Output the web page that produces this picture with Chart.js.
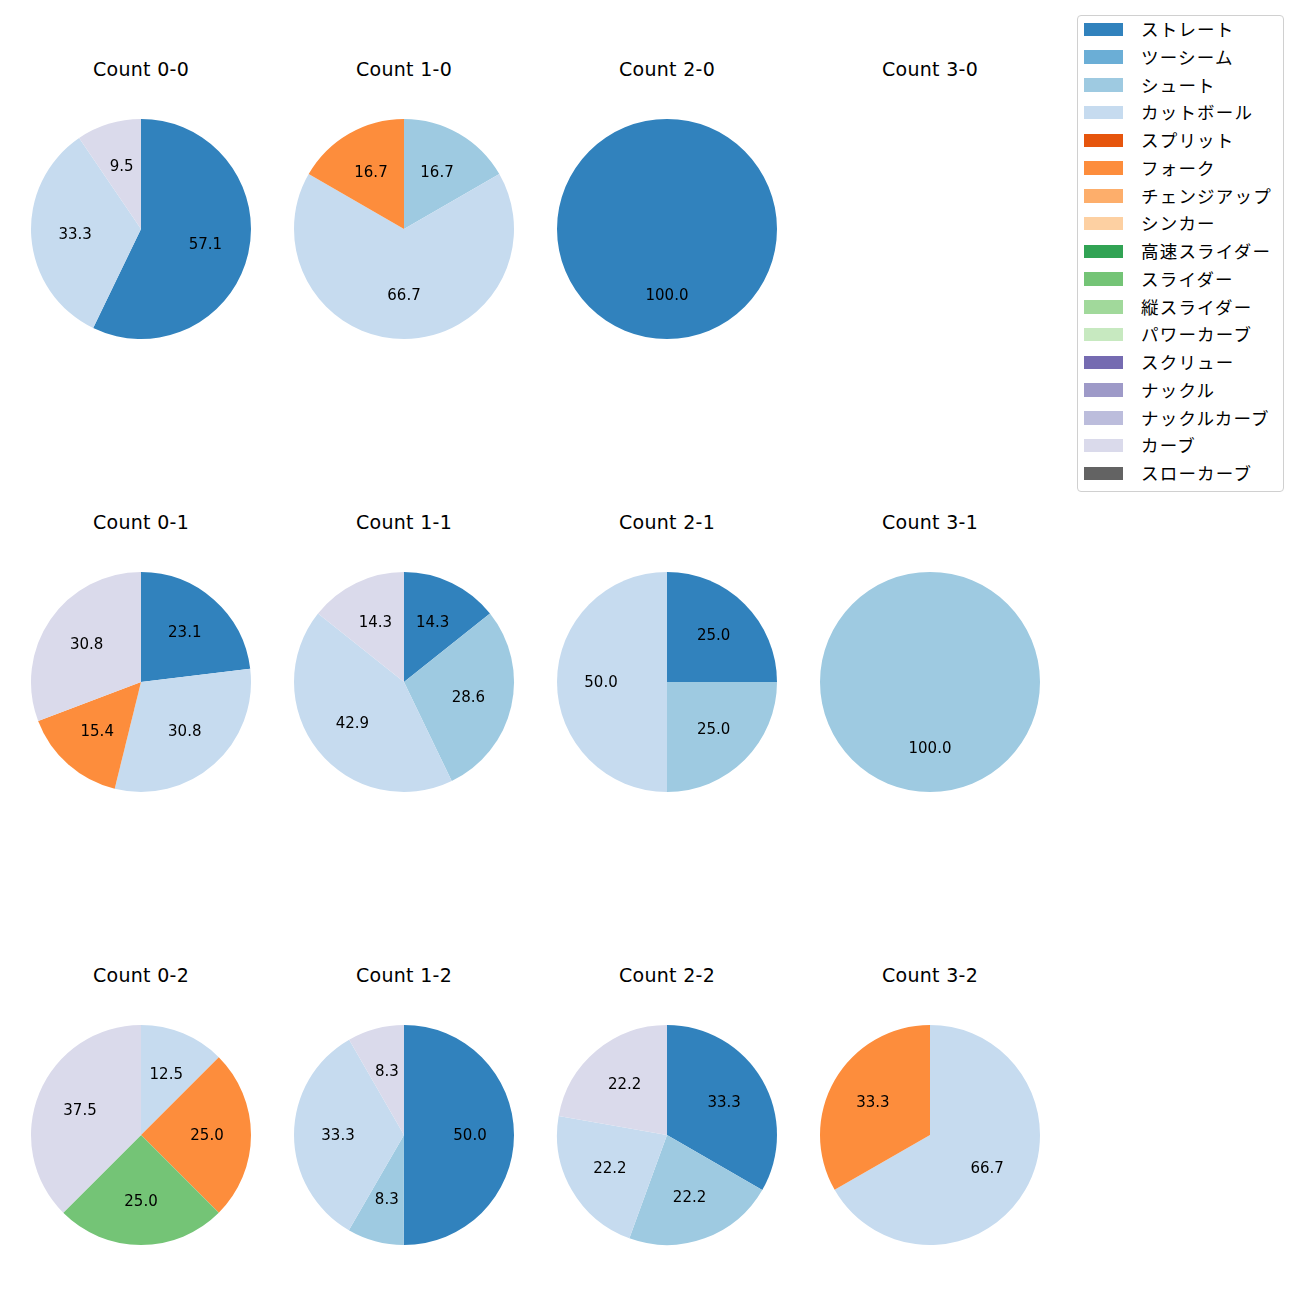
<!DOCTYPE html>
<html>
<head>
<meta charset="utf-8">
<script src="https://cdn.jsdelivr.net/npm/chart.js@4/dist/chart.umd.min.js"></script>
<style>
  html, body { margin: 0; padding: 0; background: #ffffff; }
  body { width: 1300px; height: 1300px; position: relative; overflow: hidden;
         font-family: "DejaVu Sans", "Noto Sans CJK JP", sans-serif; }
  .title { position: absolute; width: 240px; text-align: center; font-size: 19px; letter-spacing: 0.3px;
           line-height: 20px; color: #000; font-family: "DejaVu Sans", sans-serif; }
  canvas.pie { position: absolute; }
  #legend { position: absolute; left: 1077px; top: 15px; width: 207px; height: 477px;
            border: 1px solid #d0d0d0; border-radius: 4px; background: rgba(255,255,255,0.8);
            box-sizing: border-box; }
  .li { position: absolute; left: 0; height: 20px; font-size: 17.5px; line-height: 20px; color: #000; white-space: nowrap;
        font-family: "Noto Sans CJK JP", sans-serif; letter-spacing: 1.2px; }
  .sw { position: absolute; left: 6px; top: 3.5px; width: 39px; height: 13.5px; }
  .lt { position: absolute; left: 63px; top: 0; }
</style>
</head>
<body>
<div id="legend"></div>
<script>
// ---- data ----
const pitchTypes = ["ストレート","ツーシーム","シュート","カットボール","スプリット","フォーク","チェンジアップ","シンカー","高速スライダー","スライダー","縦スライダー","パワーカーブ","スクリュー","ナックル","ナックルカーブ","カーブ","スローカーブ"];
const pitchColors = ["#3182bd","#6baed6","#9ecae1","#c6dbef","#e6550d","#fd8d3c","#fdae6b","#fdd0a2","#31a354","#74c476","#a1d99b","#c7e9c0","#756bb1","#9e9ac8","#bcbddc","#dadaeb","#636363"];
const countLabels = ["Count 0-0","Count 1-0","Count 2-0","Count 3-0",
                     "Count 0-1","Count 1-1","Count 2-1","Count 3-1",
                     "Count 0-2","Count 1-2","Count 2-2","Count 3-2"];
// percentages per pitch type (legend order)
const count00 = [57.1,0,0,33.3,0,0,0,0,0,0,0,0,0,0,0,9.5,0];
const count10 = [0,0,16.7,66.7,0,16.7,0,0,0,0,0,0,0,0,0,0,0];
const count20 = [100,0,0,0,0,0,0,0,0,0,0,0,0,0,0,0,0];
const count30 = [0,0,0,0,0,0,0,0,0,0,0,0,0,0,0,0,0];
const count01 = [23.1,0,0,30.8,0,15.4,0,0,0,0,0,0,0,0,0,30.8,0];
const count11 = [14.3,0,28.6,42.9,0,0,0,0,0,0,0,0,0,0,0,14.3,0];
const count21 = [25,0,25,50,0,0,0,0,0,0,0,0,0,0,0,0,0];
const count31 = [0,0,100,0,0,0,0,0,0,0,0,0,0,0,0,0,0];
const count02 = [0,0,0,12.5,0,25,0,0,0,25,0,0,0,0,0,37.5,0];
const count12 = [50,0,8.3,33.3,0,0,0,0,0,0,0,0,0,0,0,8.3,0];
const count22 = [33.3,0,22.2,22.2,0,0,0,0,0,0,0,0,0,0,0,22.2,0];
const count32 = [0,0,0,66.7,0,33.3,0,0,0,0,0,0,0,0,0,0,0];
const countValues = [count00,count10,count20,count30,count01,count11,count21,count31,count02,count12,count22,count32];

// ---- layout ----
const colX = [141, 404, 667, 930];
const rowY = [229, 682, 1135];
const R = 110;
const FONT = '"DejaVu Sans", sans-serif';

const pctLabels = {
  id: 'pctLabels',
  afterDatasetsDraw(chart) {
    const ctx = chart.ctx;
    const meta = chart.getDatasetMeta(0);
    const data = chart.data.datasets[0].data;
    ctx.save();
    ctx.fillStyle = '#000';
    ctx.font = '15px ' + FONT;
    ctx.textAlign = 'center';
    ctx.textBaseline = 'middle';
    meta.data.forEach((arc, i) => {
      const p = arc.getProps(['startAngle','endAngle','outerRadius','x','y'], true);
      const mid = (p.startAngle + p.endAngle) / 2;
      const r = p.outerRadius * 0.6;
      ctx.fillText(data[i].toFixed(1), p.x + Math.cos(mid) * r, p.y + Math.sin(mid) * r + 1);
    });
    ctx.restore();
  }
};

countLabels.forEach((lab, k) => {
  const cx = colX[k % 4], cy = rowY[Math.floor(k / 4)];
  const t = document.createElement('div');
  t.className = 'title';
  t.textContent = lab;
  t.style.left = (cx - 120) + 'px';
  t.style.top = (cy - 170) + 'px';
  document.body.appendChild(t);

  const vals = countValues[k];
  const labels = [], data = [], colors = [];
  vals.forEach((v, i) => { if (v > 0) { labels.push(pitchTypes[i]); data.push(v); colors.push(pitchColors[i]); } });
  if (data.length === 0) return;

  const cv = document.createElement('canvas');
  cv.className = 'pie';
  const S = 2 * R + 4;
  cv.width = S; cv.height = S;
  cv.style.width = S + 'px'; cv.style.height = S + 'px';
  cv.style.left = (cx - S / 2) + 'px';
  cv.style.top = (cy - S / 2) + 'px';
  document.body.appendChild(cv);
  new Chart(cv, {
    type: 'pie',
    data: { labels, datasets: [{ data, backgroundColor: colors, borderWidth: 0, hoverOffset: 0 }] },
    options: {
      responsive: false, animation: false, devicePixelRatio: 1,
      layout: { padding: 2 },
      plugins: { legend: { display: false }, tooltip: { enabled: false }, title: { display: false } },
      events: []
    },
    plugins: [pctLabels]
  });
});

// ---- legend ----
const leg = document.getElementById('legend');
pitchTypes.forEach((name, i) => {
  const d = document.createElement('div');
  d.className = 'li';
  d.style.top = (3 + i * 27.75) + 'px';
  d.innerHTML = '<span class="sw" style="background:' + pitchColors[i] + '"></span><span class="lt"></span>';
  d.querySelector('.lt').textContent = name;
  leg.appendChild(d);
});
</script>
</body>
</html>
